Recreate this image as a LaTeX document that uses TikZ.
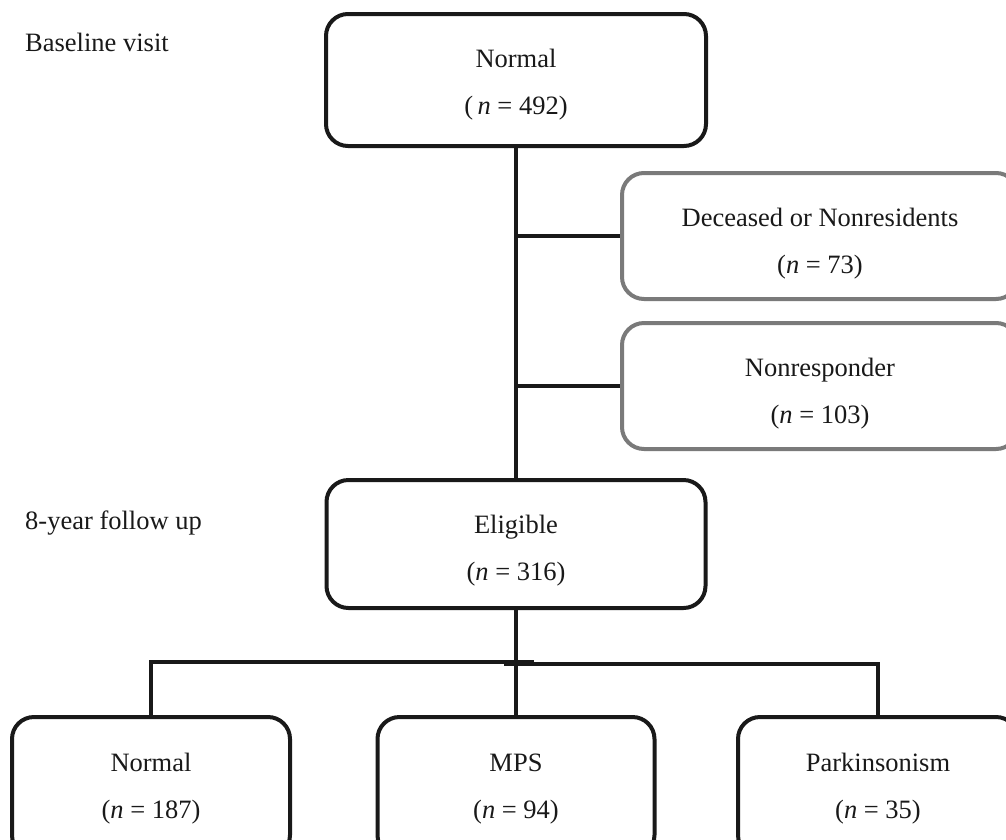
\documentclass[tikz,border=0pt]{standalone}
\usepackage{fontspec}
\setmainfont{Liberation Serif}
\begin{document}
\begin{tikzpicture}[x=1pt,y=-1pt,
  box/.style={draw=black!90,line width=4pt,rounded corners=22pt,inner sep=0pt},
  greybox/.style={box,draw=black!52},
  txt/.style={align=center,inner sep=0pt,font=\fontsize{26.5}{47}\selectfont,text=black!90},
  lbl/.style={anchor=base west,inner sep=0pt,font=\fontsize{26.5}{30}\selectfont,text=black!90},
  conn/.style={line width=4.5pt,draw=black!90}]
\clip (0,0) rectangle (1006,839);
\fill[white] (0,0) rectangle (1006,839);
\node[lbl] (lb1) at (25,51) {Baseline visit};
\node[lbl] (lb2) at (25,529) {8-year follow up};
\node[box,minimum width=380pt,minimum height=132pt] (top) at (516,80) {};
\node[txt,yshift=-5pt] (topt) at (top.center) {Normal\\(\,\textit{n} = 492)};
\node[greybox,minimum width=396pt,minimum height=126pt] (dec) at (820,236) {};
\node[txt,yshift=-8pt] (dect) at (dec.center) {Deceased or Nonresidents\\(\textit{n} = 73)};
\node[greybox,minimum width=396pt,minimum height=126pt] (nonr) at (820,386) {};
\node[txt,yshift=-8pt] (nonrt) at (nonr.center) {Nonresponder\\(\textit{n} = 103)};
\node[box,minimum width=379pt,minimum height=128pt] (elig) at (516,544) {};
\node[txt,yshift=-7pt] (eligt) at (elig.center) {Eligible\\(\textit{n} = 316)};
\node[box,minimum width=278pt,minimum height=140pt] (bn) at (151,787) {};
\node[txt,yshift=-2pt] (bnt) at (bn.center) {Normal\\(\textit{n} = 187)};
\node[box,minimum width=277pt,minimum height=140pt] (bm) at (516,787) {};
\node[txt,yshift=-2pt] (bmt) at (bm.center) {MPS\\(\textit{n} = 94)};
\node[box,minimum width=280pt,minimum height=140pt] (bp) at (878,787) {};
\node[txt,yshift=-2pt] (bpt) at (bp.center) {Parkinsonism\\(\textit{n} = 35)};
\coordinate (j1) at (top.south |- dec.west);
\coordinate (j2) at (top.south |- nonr.west);
\draw[conn] (top.south) -- (elig.north);
\draw[conn] (j1) -- (dec.west);
\draw[conn] (j2) -- (nonr.west);
\coordinate (barL) at (bn.north |- 0,662);
\coordinate (barLe) at (534,662);
\coordinate (barRs) at (504,664);
\coordinate (barR) at (bp.north |- 0,664);
\draw[conn] (elig.south) -- (bm.north);
\draw[conn] (bn.north) -- (barL) -- (barLe);
\draw[conn] (barRs) -- (barR) -- (bp.north);
\end{tikzpicture}
\end{document}
